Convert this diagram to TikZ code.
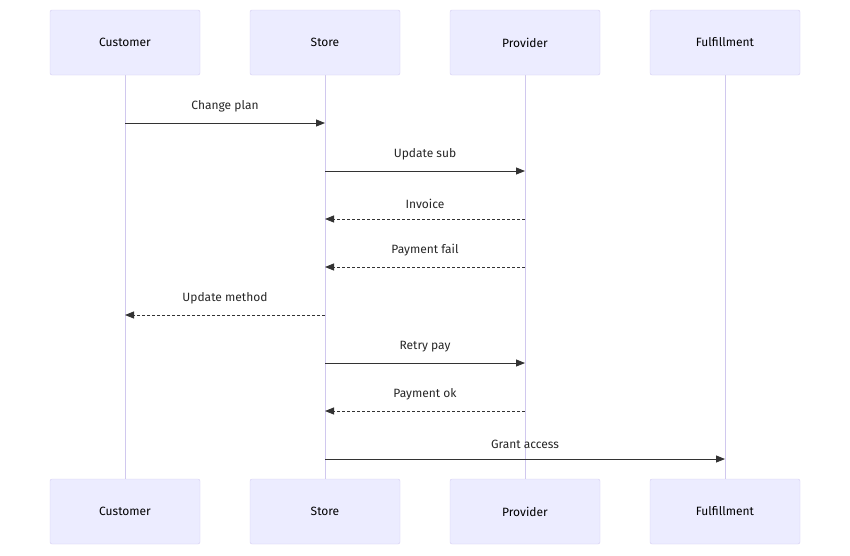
\documentclass[tikz,border=0pt]{standalone}
\usepackage{fontspec}
\setmainfont{Fira Sans}
\usetikzlibrary{arrows.meta}
\definecolor{boxfill}{HTML}{ECECFF}
\definecolor{boxdraw}{HTML}{D4CCF2}
\definecolor{life}{HTML}{D0C8EE}
\definecolor{arr}{HTML}{333333}
\begin{document}
\begin{tikzpicture}[x=1pt,y=-1pt,
  actor/.style={draw=boxdraw,fill=boxfill,rounded corners=2pt,minimum width=150pt,minimum height=65pt,font=\fontsize{12}{14}\selectfont,text=black},
  msg/.style={draw=arr,line width=0.9pt,-{Triangle[length=9pt,width=7pt]}},
  reply/.style={msg,dash pattern=on 3pt off 2pt},
  lbl/.style={font=\fontsize{12}{14}\selectfont,text=black!85}]
\useasboundingbox (0,0) rectangle (850,555);
\foreach \n/\t/\x in {c/Customer/125,s/Store/325,p/Provider/525,f/Fulfillment/725}{
  \draw[life,line width=1pt] (\x,75) -- (\x,479);
  \node[actor] (\n t) at (\x,42.5) {\t};
  \node[actor] (\n b) at (\x,511.5) {\t};
  \foreach \y in {123,171,219,267,315,363,411,459}{\coordinate (\n\y) at (\x,\y);}
}
\draw[msg] (c123) -- node[lbl,above=7pt]{Change plan} (s123);
\draw[msg] (s171) -- node[lbl,above=7pt]{Update sub} (p171);
\draw[reply] (p219) -- node[lbl,above=7pt]{Invoice} (s219);
\draw[reply] (p267) -- node[lbl,above=7pt]{Payment fail} (s267);
\draw[reply] (s315) -- node[lbl,above=7pt]{Update method} (c315);
\draw[msg] (s363) -- node[lbl,above=7pt]{Retry pay} (p363);
\draw[reply] (p411) -- node[lbl,above=7pt]{Payment ok} (s411);
\draw[msg] (s459) -- node[lbl,above=7pt]{Grant access} (f459);
\end{tikzpicture}
\end{document}
